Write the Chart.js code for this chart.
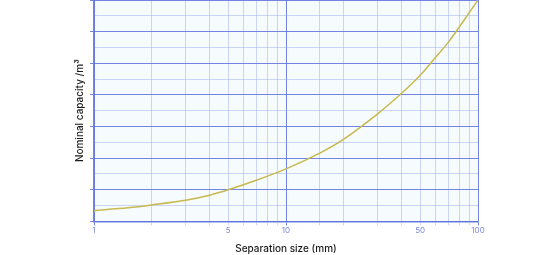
<!DOCTYPE html>
<html>
<head>
<meta charset="utf-8">
<script src="https://cdn.jsdelivr.net/npm/chart.js@4/dist/chart.umd.min.js"></script>
<style>
  html, body { margin: 0; padding: 0; background: #fff; }
  #wrap { width: 555px; height: 255px; }
</style>
</head>
<body>
<div id="wrap"><canvas id="capChart"></canvas></div>
<script>
/* Nominal capacity vs separation size — log x axis */

const sizes = [1, 1.5, 2, 3, 4, 5, 7, 10, 15, 20, 30, 40, 50, 60, 70, 80, 90, 100];
const capacity = [0.34, 0.43, 0.52, 0.67, 0.83, 1.0, 1.3, 1.66, 2.16, 2.6, 3.4, 4.05, 4.62, 5.18, 5.66, 6.15, 6.6, 7.0];
const xLabels = [1, 5, 10, 50, 100];

const MAJOR = "rgba(92,112,222,0.85)";
const MINOR = "rgba(150,165,235,0.45)";

const plotBg = {
    id: "plotBg",
    beforeDraw(chart) {
        const { ctx, chartArea: a } = chart;
        ctx.save();
        ctx.fillStyle = "#f6fcfe";
        ctx.fillRect(a.left, a.top, a.right - a.left, a.bottom - a.top);
        ctx.restore();
    }
};

new Chart(document.getElementById("capChart"), {
    type: "line",
    data: {
        datasets: [{
            data: sizes.map((s, i) => ({ x: s, y: capacity[i] })),
            borderColor: "#c7b94e",
            borderWidth: 1.5,
            pointRadius: 0,
            tension: 0.3,
            fill: false
        }]
    },
    options: {
        responsive: true,
        maintainAspectRatio: false,
        animation: false,
        layout: { padding: { left: 70, right: 77, top: 0, bottom: 0 } },
        plugins: { legend: { display: false }, tooltip: { enabled: false } },
        scales: {
            x: {
                type: "logarithmic",
                min: 1,
                max: 100,
                border: { color: MAJOR, width: 1.5 },
                grid: {
                    color: ctx => {
                        const v = ctx.tick && ctx.tick.value;
                        return (v === 1 || v === 10 || v === 100) ? MAJOR : MINOR;
                    },
                    tickLength: 4
                },
                ticks: {
                    autoSkip: false,
                    maxRotation: 0,
                    color: "#7a88e0",
                    font: { family: "Inter", size: 8 },
                    padding: 0,
                    callback: v => xLabels.includes(v) ? String(v) : ""
                },
                title: {
                    display: true,
                    text: "Separation size (mm)",
                    color: "#1a1a1a",
                    font: { family: "Inter", size: 10, weight: "500" },
                    padding: { top: 8, bottom: 0 }
                }
            },
            y: {
                min: 0,
                max: 7,
                border: { color: MAJOR, width: 1.5 },
                grid: {
                    color: ctx => (ctx.tick && Number.isInteger(ctx.tick.value)) ? MAJOR : MINOR,
                    tickColor: ctx => (ctx.tick && Number.isInteger(ctx.tick.value)) ? MAJOR : "rgba(0,0,0,0)",
                    tickLength: 4
                },
                ticks: { stepSize: 0.5, display: false },
                title: {
                    display: true,
                    text: "Nominal capacity /m³",
                    color: "#1a1a1a",
                    font: { family: "Inter", size: 10, weight: "500" },
                    padding: { bottom: 4 }
                }
            }
        }
    },
    plugins: [plotBg]
});
</script>
</body>
</html>
